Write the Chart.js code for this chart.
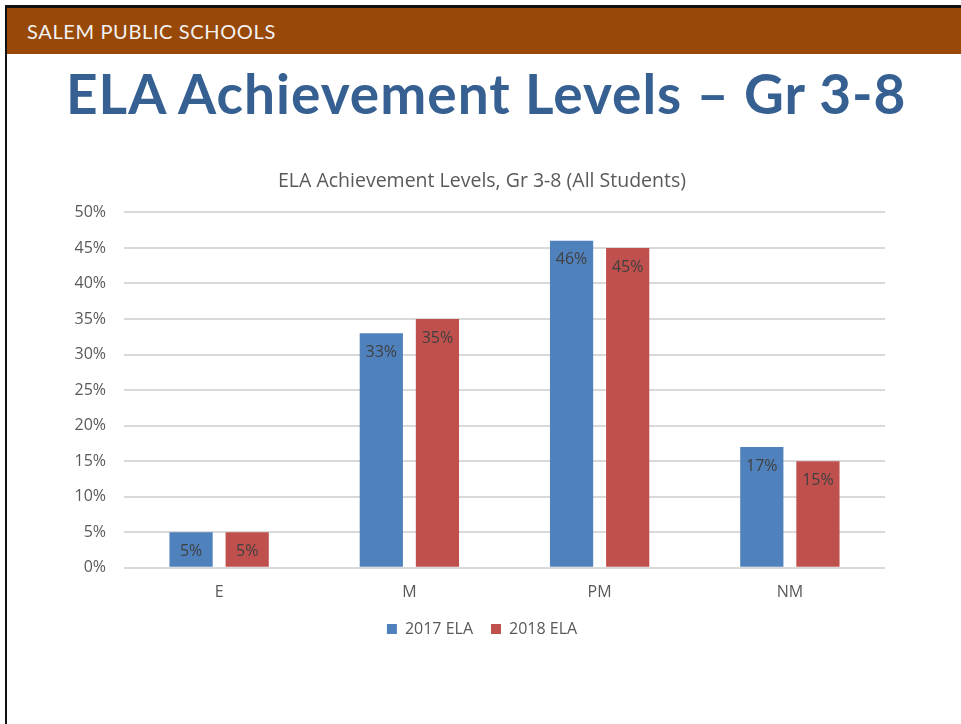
<!DOCTYPE html>
<html>
<head>
<meta charset="utf-8">
<script src="https://cdn.jsdelivr.net/npm/chart.js@4"></script>
<style>
  html, body { margin: 0; padding: 0; background: #fff; }
  #slide {
    position: absolute; left: 5px; top: 5px; width: 960px; height: 716px;
    border-left: 2px solid #111; border-top: 3px solid #111; border-bottom: 2px solid #999;
    overflow: hidden; background: #fff;
  }
  #header {
    position: absolute; left: 0; top: 0; width: 100%; height: 46px;
    background: #984807; color: #f2f2f2;
    font: 20px "Lato", sans-serif; line-height: 46px; padding-left: 20px; box-sizing: border-box;
    white-space: nowrap;
  }
  #header span { display: inline-block; }
  #title {
    position: absolute; left: 59px; top: 52px; white-space: nowrap; line-height: 1.2;
    color: #376092; font: bold 55px "Lato", sans-serif;
  }
  #chartBox { position: absolute; left: -7px; top: 155px; width: 961px; height: 484px; }
</style>
</head>
<body>
<div id="slide">
  <div id="header"><span id="hdr">SALEM PUBLIC SCHOOLS</span></div>
  <div id="title">ELA Achievement Levels – Gr 3-8</div>
  <div id="chartBox"><canvas id="myChart"></canvas></div>
</div>
<script>
const categories = ['E', 'M', 'PM', 'NM'];
const ela2017 = [5, 33, 46, 17];
const ela2018 = [5, 35, 45, 15];
const seriesNames = ['2017 ELA', '2018 ELA'];

// spread slide texts out to the widths they take in the slide
function spreadTo(el, w) {
    const n = el.textContent.length - 1;
    el.style.letterSpacing = ((w - el.offsetWidth) / n) + 'px';
}
spreadTo(document.getElementById('title'), 839);
spreadTo(document.getElementById('hdr'), 248);

// labels inside the top of each bar
const barLabels = {
    id: 'barLabels',
    afterDatasetsDraw(chart) {
        const ctx = chart.ctx;
        ctx.save();
        ctx.font = '16px "Open Sans", sans-serif';
        ctx.fillStyle = '#404040';
        ctx.textAlign = 'center';
        ctx.textBaseline = 'middle';
        chart.data.datasets.forEach((ds, i) => {
            chart.getDatasetMeta(i).data.forEach((bar, j) => {
                ctx.fillText(ds.data[j] + '%', bar.x, bar.y + 19);
            });
        });
        ctx.restore();
    }
};

const data = {
    labels: categories,
    datasets: [{
        label: seriesNames[0],
        backgroundColor: '#4F81BD',
        data: ela2017,
    }, {
        label: seriesNames[1],
        backgroundColor: '#C0504D',
        data: ela2018,
    }]
};

const config = {
    type: 'bar',
    data: data,
    plugins: [barLabels],
    options: {
        responsive: true,
        maintainAspectRatio: false,
        animation: false,
        datasets: {
            bar: { categoryPercentage: 0.59, barPercentage: 0.77 }
        },
        layout: { padding: { left: 20, right: 17, top: 7, bottom: 0 } },
        plugins: {
            title: {
                display: true,
                text: 'ELA Achievement Levels, Gr 3-8 (All Students)',
                color: '#595959',
                font: { family: 'Open Sans', size: 19.5, weight: 'normal' },
                padding: { top: 0, bottom: 19 }
            },
            legend: {
                position: 'bottom',
                labels: {
                    color: '#595959',
                    font: { family: 'Open Sans', size: 16 },
                    boxWidth: 10, boxHeight: 10,
                    padding: 18
                }
            },
            tooltip: { enabled: false }
        },
        scales: {
            x: {
                afterFit(scale) { scale.height -= 14; },
                grid: { display: false, drawTicks: false },
                border: { display: false },
                ticks: { color: '#595959', font: { family: 'Open Sans', size: 16 }, padding: 15 }
            },
            y: {
                min: 0, max: 50,
                afterFit(scale) { scale.width = 104; },
                grid: { color: '#d9d9d9', lineWidth: 2, drawTicks: false },
                border: { display: false },
                ticks: {
                    stepSize: 5,
                    color: '#595959',
                    font: { family: 'Open Sans', size: 16 },
                    padding: 18,
                    callback: v => v + '%'
                }
            },
            // empty right margin so title and legend centre on the slide
            yRight: {
                position: 'right',
                min: 0, max: 50,
                afterFit(scale) { scale.width = 59; },
                grid: { display: false, drawTicks: false },
                border: { display: false },
                ticks: { display: false }
            }
        }
    }
};

const myChart = new Chart(document.getElementById('myChart'), config);
</script>
</body>
</html>
